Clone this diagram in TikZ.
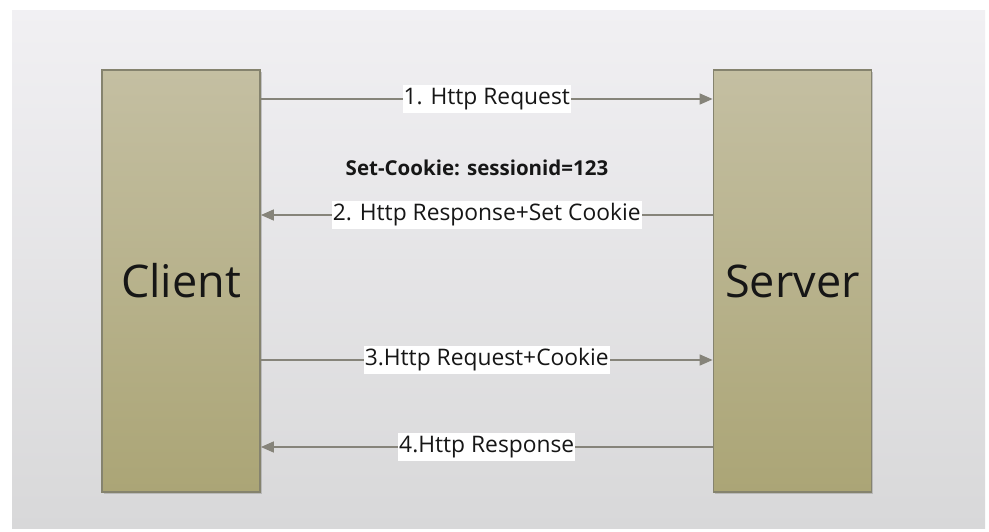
\documentclass[tikz,border=0pt]{standalone}
\usepackage{fontspec}
\setmainfont{Open Sans}
\usetikzlibrary{arrows.meta,shadows}
\definecolor{bgtop}{HTML}{F1F0F3}
\definecolor{bgbot}{HTML}{D8D8D9}
\definecolor{boxtop}{HTML}{C4BFA2}
\definecolor{boxbot}{HTML}{ABA576}
\definecolor{boxline}{HTML}{85836E}
\definecolor{arrcol}{HTML}{86847A}
\definecolor{txt}{HTML}{161616}
\tikzset{
  party/.style={draw=boxline, line width=1.8pt, top color=boxtop, bottom color=boxbot,
    minimum width=158pt, minimum height=422pt, inner sep=0pt,
    font=\fontsize{45}{54}\selectfont, text=txt,
    drop shadow={shadow xshift=1.5pt, shadow yshift=-1.5pt, fill=black!40, opacity=0.5}},
  msg/.style={draw=arrcol, line width=1.6pt, -{Triangle[length=13pt,width=11pt]}},
  lbl/.style={fill=white, inner xsep=1pt, inner ysep=3pt, text=txt,
    font=\fontsize{22.8}{27}\selectfont},
  note/.style={text=txt, font=\fontsize{20.5}{24}\selectfont\bfseries}
}
\begin{document}
\begin{tikzpicture}[x=1pt,y=-1pt]
  \useasboundingbox (0,0) rectangle (989,531);
  \fill[white] (0,0) rectangle (989,531);
  \shade[top color=bgtop, bottom color=bgbot] (12,10) rectangle (985,528);
  \node[party] (client) at (181,281) {Client};
  \node[party] (server) at (792.5,281) {Server};
  \draw[msg] (client.east |- 0,99) -- node[lbl]{1. Http Request} (server.west |- 0,99);
  \node[note] (cookie) at (477,168) {Set-Cookie: sessionid=123};
  \draw[msg] (server.west |- 0,215) -- node[lbl]{2. Http Response+Set Cookie} (client.east |- 0,215);
  \draw[msg] (client.east |- 0,360) -- node[lbl]{3.Http Request+Cookie} (server.west |- 0,360);
  \draw[msg] (server.west |- 0,447) -- node[lbl]{4.Http Response} (client.east |- 0,447);
\end{tikzpicture}
\end{document}
